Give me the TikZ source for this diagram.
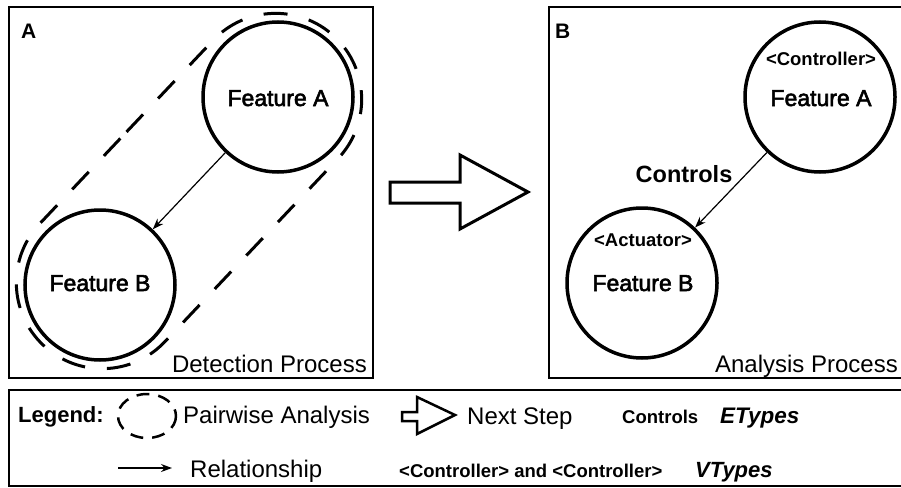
\documentclass[tikz,border=0pt]{standalone}
\usepackage{fontspec}
\setmainfont{Liberation Sans}
\newfontfamily\featfont{Liberation Sans}[FakeBold=2.5]
\usepackage{tikz}
\usetikzlibrary{shapes.misc,arrows.meta,positioning}

\newcommand{\fsz}[1]{\fontsize{#1}{#1}\selectfont}

\tikzset{
	feat/.style={circle, draw=black, line width=3.5pt, minimum size=150pt, inner sep=0pt},
	panel/.style={draw=black, line width=2pt},
	rel/.style={-{Stealth[length=11pt,width=8pt]}, line width=1.2pt},
	pair/.style={draw=black, line width=3pt, dash pattern=on 24pt off 22pt},
	lbl/.style={inner sep=0pt, anchor=base},
	bigarrow/.style={draw=black, line width=3pt, line join=miter},
}

\begin{document}
\begin{tikzpicture}[x=1pt,y=-1pt]
	\useasboundingbox (0,0) rectangle (901,487);
	% panels
	\draw[panel] (9,7) rectangle (373,378);
	\draw[panel] (549,7) rectangle (915,378);
	\draw[panel] (9,390) rectangle (915,486);
	\node[lbl, anchor=base west, font=\bfseries\fsz{21}] (titleA) at (21,39) {A};
	\node[lbl, anchor=base west, font=\bfseries\fsz{21}] (titleB) at (555,39) {B};

	% detection process
	\node[pair, rounded rectangle, minimum width=431pt, minimum height=172pt, rotate=46.6] (pairAB) at (189,191) {};
	\node[feat] (detA) at (278,97) {};
	\node[feat] (detB) at (100,285) {};
	\node[lbl, font=\featfont\fsz{23}] (detAtxt) at (278,106) {Feature A};
	\node[lbl, font=\featfont\fsz{23}] (detBtxt) at (100,291) {Feature B};
	\draw[rel] (detA) -- (detB);
	\node[lbl, anchor=base east, font=\fsz{24}] (detlbl) at (367,372) {Detection Process};

	% next step
	\draw[bigarrow] (390,182) -- (460,182) -- (460,155) -- (528,192) -- (460,229) -- (460,203) -- (390,203) -- cycle;

	% analysis process
	\node[feat] (anaA) at (820,97) {};
	\node[feat] (anaB) at (642,283) {};
	\node[lbl, font=\bfseries\fsz{18.5}] (anaActl) at (821,66) {<Controller>};
	\node[lbl, font=\featfont\fsz{23}] (anaAtxt) at (821,106) {Feature A};
	\node[lbl, font=\bfseries\fsz{18.5}] (anaBact) at (643,246) {<Actuator>};
	\node[lbl, font=\featfont\fsz{23}] (anaBtxt) at (643,291) {Feature B};
	\draw[rel] (anaA) -- (anaB);
	\node[lbl, font=\bfseries\fsz{23.5}] (ctrl) at (684,182) {Controls};
	\node[lbl, anchor=base east, font=\fsz{24}] (analbl) at (898,372) {Analysis Process};

	% legend
	\node[lbl, anchor=base west, font=\bfseries\fsz{22}] (leg) at (18,422) {Legend:};
	\draw[line width=2.5pt, dash pattern=on 13pt off 9pt] (147,416) ellipse [x radius=29, y radius=22];
	\node[lbl, anchor=base west, font=\fsz{24}] (legpair) at (183,423) {Pairwise Analysis};
	\draw[bigarrow, line width=2.5pt] (402,412) -- (417,412) -- (417,397) -- (455,415) -- (417,434) -- (417,421) -- (402,421) -- cycle;
	\node[lbl, anchor=base west, font=\fsz{24}] (legnext) at (467,424) {Next Step};
	\node[lbl, anchor=base west, font=\bfseries\fsz{18.5}] (legctrl) at (622,423) {Controls};
	\node[lbl, anchor=base west, font=\bfseries\itshape\fsz{22.5}] (legetype) at (720,423) {ETypes};
	\coordinate (relS) at (118,468);
	\coordinate (relE) at (172,468);
	\draw[rel] (relS) -- (relE);
	\node[lbl, anchor=base west, font=\fsz{24}] (legrel) at (190,477) {Relationship};
	\node[lbl, anchor=base west, font=\bfseries\fsz{18.5}] (legvt) at (399,477) {<Controller> and <Controller>};
	\node[lbl, anchor=base west, font=\bfseries\itshape\fsz{22}] (legvtype) at (695,477) {VTypes};
\end{tikzpicture}
\end{document}
